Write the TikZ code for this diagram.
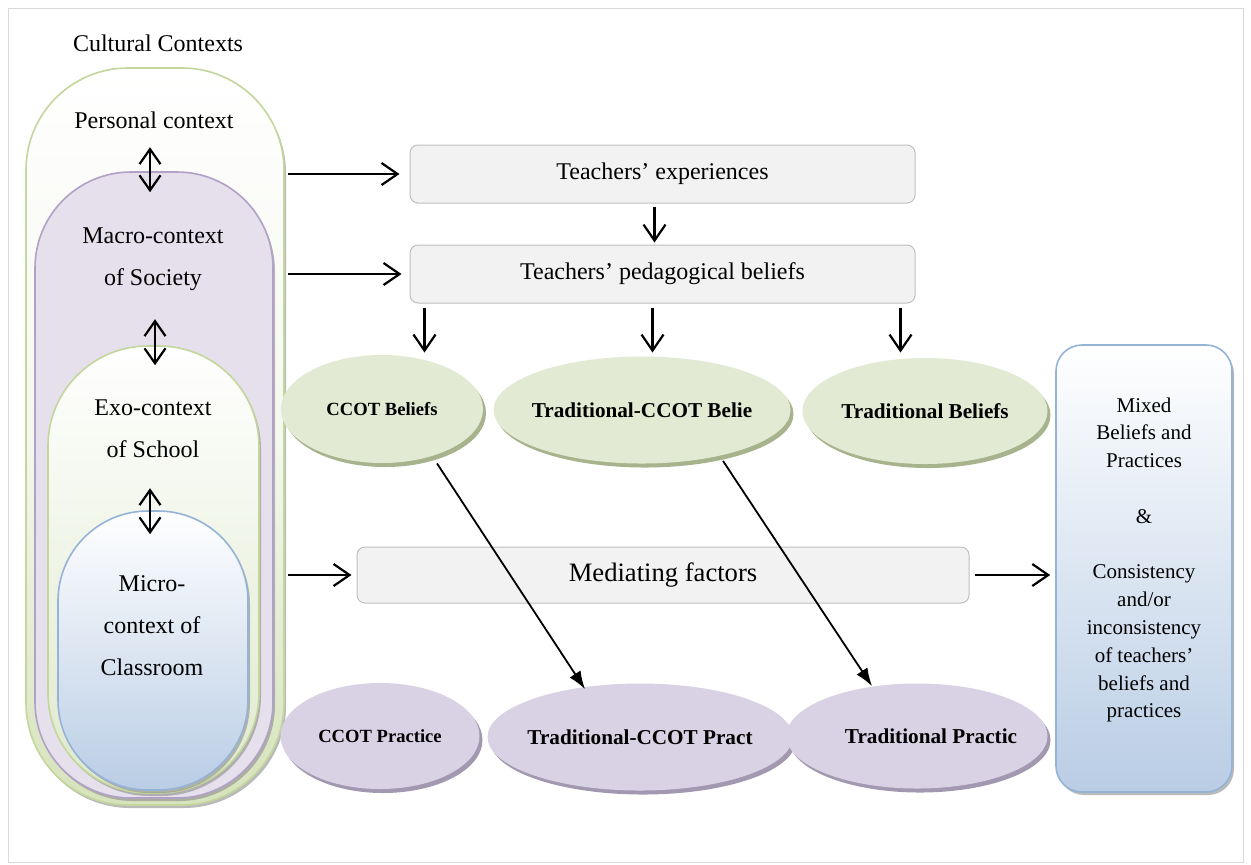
\documentclass[tikz,border=0pt]{standalone}
\usepackage{fontspec}
\setmainfont{Liberation Serif}
\usetikzlibrary{arrows.meta}
\usetikzlibrary{shapes.geometric}
\usetikzlibrary{shadows}
\definecolor{olivedraw}{RGB}{195,214,155}
\definecolor{olivefill}{RGB}{214,227,188}
\definecolor{exofill}{RGB}{222,233,204}
\definecolor{purpdraw}{RGB}{178,161,199}
\definecolor{purpfill}{RGB}{229,224,236}
\definecolor{bluedraw}{RGB}{149,179,215}
\definecolor{bluefill}{RGB}{185,205,229}
\definecolor{boxfill}{RGB}{242,242,242}
\definecolor{boxdraw}{RGB}{191,191,191}
\definecolor{belfill}{RGB}{226,234,212}
\definecolor{belshade}{RGB}{167,179,140}
\definecolor{pracfill}{RGB}{217,209,228}
\definecolor{pracshade}{RGB}{162,152,176}
\definecolor{framegray}{RGB}{217,217,217}
\tikzset{ctx/.style = {rectangle, line width = 0.8pt, inner sep = 0,
    drop shadow = {shadow xshift = 1pt, shadow yshift = -1.5pt, fill = black!45, opacity = 0.6}}}
\tikzset{lbl/.style = {font = \fontsize{12}{21}\selectfont, align = center}}
\tikzset{flowbox/.style = {rectangle, rounded corners = 4pt, draw = boxdraw, fill = boxfill, line width = 0.5pt}}
\tikzset{belief/.style = {ellipse, inner ysep = 0, inner xsep = -20pt, fill = belfill, font = \bfseries\fontsize{10.6}{12}\selectfont,
    drop shadow = {shadow xshift = 1.5pt, shadow yshift = -2pt, fill = belshade, opacity = 1}}}
\tikzset{practice/.style = {ellipse, inner ysep = 0, inner xsep = -20pt, fill = pracfill, font = \bfseries\fontsize{10.6}{12}\selectfont,
    drop shadow = {shadow xshift = 1.5pt, shadow yshift = -2pt, fill = pracshade, opacity = 1}}}
\tikzset{arr/.style = {-{Straight Barb[length = 8pt, width = 11pt]}, line width = 1.1pt}}
\tikzset{dblarr/.style = {{Straight Barb[length = 7.5pt, width = 10.5pt]}-{Straight Barb[length = 7.5pt, width = 10.5pt]}, line width = 1.1pt}}
\tikzset{diag/.style = {-{Latex[length = 9pt, width = 6.5pt]}, line width = 0.9pt}}

\begin{document}
\begin{tikzpicture}[x = 0.5pt, y = -0.5pt]
    \useasboundingbox (0, 0) rectangle (1251, 864);
    \fill [white] (0, 0) rectangle (1251, 864);
    \draw [framegray] (8, 8) rectangle (1243, 862);

    \node [lbl] (cultural) at (158, 43) {Cultural Contexts};

    \node [ctx, rounded corners = 51pt, draw = olivedraw, top color = white, bottom color = olivefill,
      middle color = white!75!olivefill, minimum width = 129pt, minimum height = 368.5pt] (personal) at (155, 436.5) {};
    \node [ctx, rounded corners = 48pt, draw = purpdraw, fill = purpfill,
      minimum width = 119pt, minimum height = 313pt] (macro) at (154, 485) {};
    \node [ctx, rounded corners = 50pt, draw = olivedraw, top color = white, bottom color = exofill,
      minimum width = 105.5pt, minimum height = 223.5pt] (exo) at (153.5, 569.5) {};
    \node [ctx, rounded corners = 45pt, draw = bluedraw, top color = white, bottom color = bluefill,
      minimum width = 95pt, minimum height = 139.5pt] (micro) at (153, 650.5) {};

    \node [lbl] (personaltxt) at (154, 120) {Personal context};
    \node [lbl] (macrotxt) at (153, 259) {Macro-context\\of Society};
    \node [lbl] (exotxt) at (153, 429) {Exo-context\\of School};
    \node [lbl] (microtxt) at (152, 626) {Micro-\\context of\\Classroom};

    \draw [dblarr] ([xshift = -2pt, yshift = 12pt]macro.north) -- ([xshift = -2pt, yshift = -10.5pt]macro.north);
    \draw [dblarr] ([xshift = 0.75pt, yshift = 13pt]exo.north) -- ([xshift = 0.75pt, yshift = -10pt]exo.north);
    \draw [dblarr] ([xshift = -1.5pt, yshift = 11pt]micro.north) -- ([xshift = -1.5pt, yshift = -12pt]micro.north);

    \node [flowbox, minimum width = 252.5pt, minimum height = 29pt, font = \fontsize{12}{14}\selectfont] (exper) at (662.5, 174) {Teachers’ experiences};
    \node [flowbox, minimum width = 252.5pt, minimum height = 29pt, font = \fontsize{12}{14}\selectfont] (pedag) at (662.5, 274) {Teachers’ pedagogical beliefs};
    \node [flowbox, minimum width = 306pt, minimum height = 28pt, font = \fontsize{13.3}{15}\selectfont] (mediat) at (663, 575) {Mediating factors};

    \draw [arr, shorten <= 1.5pt, shorten >= 5pt] (personal.east |- exper.west) -- (exper.west);
    \draw [arr, shorten <= 1.5pt, shorten >= 4pt] (personal.east |- pedag.west) -- (pedag.west);
    \draw [arr, shorten <= 1.5pt, shorten >= 2.5pt] (personal.east |- mediat.west) -- (mediat.west);
    \draw [arr, shorten <= 1.5pt, shorten >= 1pt] ([xshift = -4pt]exper.south) -- ([xshift = -4pt]pedag.north);

    \node [belief, minimum width = 101pt, minimum height = 54pt, font = \bfseries\fontsize{9.3}{11}\selectfont] (ccotbel) at (382, 409) {CCOT Beliefs};
    \node [belief, minimum width = 148.5pt, minimum height = 53.5pt] (tradccotbel) at (642, 410) {Traditional-CCOT Belie};
    \node [belief, minimum width = 122.5pt, minimum height = 53pt] (tradbel) at (925, 411) {Traditional Beliefs};

    \draw [arr, shorten <= 2pt] ([xshift = 7.5pt]pedag.south west) -- +(0, 49);
    \draw [arr, shorten <= 2pt] ([xshift = -5pt]pedag.south) -- +(0, 49);
    \draw [arr, shorten <= 2pt] ([xshift = -7.5pt]pedag.south east) -- +(0, 49);

    \node [practice, minimum width = 99.5pt, minimum height = 53pt, font = \bfseries\fontsize{9.3}{11}\selectfont] (ccotprac) at (380, 736) {CCOT Practice};
    \node [practice, minimum width = 152.5pt, minimum height = 53.5pt] (tradccotprac) at (640, 737) {Traditional-CCOT Pract};
    \node [practice, minimum width = 130.5pt, minimum height = 52.5pt] (tradprac) at (917, 736) {\hspace*{14pt}Traditional Practic};

    \draw [diag] ([xshift = 27.5pt]ccotbel.south) -- ([xshift = -27.5pt, yshift = -3pt]tradccotprac.north);
    \draw [diag] ([xshift = 40.5pt, yshift = 1.5pt]tradccotbel.south) -- ([xshift = -22.5pt, yshift = -1.5pt]tradprac.north);

    \node [ctx, rounded corners = 13pt, draw = bluedraw, top color = white, bottom color = bluefill,
      minimum width = 88pt, minimum height = 223.5pt] (mixed) at (1144, 568.5) {};
    \node [font = \fontsize{10.5}{13.9}\selectfont, align = center] (mixedtxt) at (1144, 560)
      {Mixed\\Beliefs and\\Practices\\[13.9pt]\&\\[13.9pt]Consistency\\and/or\\inconsistency\\of teachers’\\beliefs and\\practices};

    \draw [arr, shorten <= 2.5pt, shorten >= 2.5pt] (mediat.east) -- (mixed.west |- mediat.east);
  \end{tikzpicture}
\end{document}
